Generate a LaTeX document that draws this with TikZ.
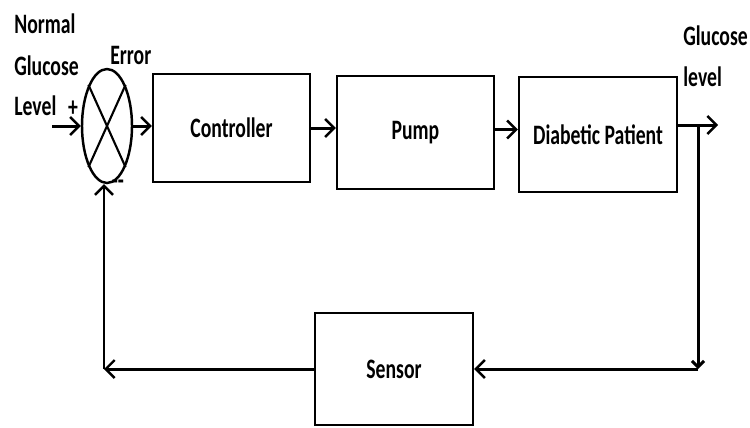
\documentclass[tikz,border=0pt]{standalone}
\usepackage{fontspec}
\newfontfamily\lblfont{Carlito}[FakeStretch=0.7]
\usetikzlibrary{positioning,arrows.meta,shapes.geometric,calc}

\begin{document}
\begin{tikzpicture}[x=0.02cm, y=-0.02cm, font=\lblfont\bfseries\fontsize{16}{19}\selectfont,
        blk/.style={draw, line width=1.4pt, rectangle, inner sep=0pt},
        lbl/.style={anchor=base west, inner sep=0pt},
        sig/.style={line width=1.7pt, -{Straight Barb[length=1.8mm,width=3.6mm,line width=1.4pt]}},
        wire/.style={line width=1.7pt}]
    \useasboundingbox (0,0) rectangle (750,427);
    % summing junction
    \node[draw, ellipse, line width=1.4pt, minimum width=1cm, minimum height=2.28cm, inner sep=0pt] (sum) at (107,126) {};
    \draw[line width=1.2pt] (sum.north west) -- (sum.south east);
    \draw[line width=1.2pt] (sum.north east) -- (sum.south west);
    % blocks
    \foreach \nm/\x/\y/\w/\h/\txt in {ctrl/231.5/128/157/108/Controller, pump/415.5/132.5/157/113/Pump,
        patient/598/134.5/158/115/Diabetic Patient, sensor/394/369/158/112/Sensor}
        {\node[blk, minimum width=\w*0.02cm, minimum height=\h*0.02cm] (\nm) at (\x,\y) {\txt};}
    % texts
    \node[lbl] (t1) at (14,33) {Normal};
    \node[lbl] (t2) at (14,75) {Glucose};
    \node[lbl] (t3) at (14,115) {Level};
    \node[lbl] (err) at (110,64) {Error};
    \node (plus) at (73,109) {+};
    \node (minus) at (118,185) {--};
    \node[lbl] (g1) at (683,45) {Glucose};
    \node[lbl] (g2) at (683,86) {level};
    % connectors
    \coordinate (in) at (52,126);
    \coordinate (out) at (718,125);
    \coordinate (tap) at (698,125);
    \coordinate (rc) at (698,369);
    \coordinate (lc) at (104,369);
    \draw[sig] (in) -- (sum.west);
    \draw[sig] (sum.east) -- (sum.east -| ctrl.west);
    \draw[sig] (ctrl.east) -- (ctrl.east -| pump.west);
    \draw[sig] ($(pump.east)+(0,-3)$) -- ($(pump.east -| patient.west)+(0,-3)$);
    \draw[sig] (patient.east |- out) -- (out);
    \draw[wire, -{Straight Barb[length=1.2mm,width=2.4mm]}] (tap) -- (rc);
    \draw[sig] (rc) -- (sensor.east);
    \draw[sig] (sensor.west) -- (lc);
    \draw[sig] (lc) -- (lc |- sum.south);
\end{tikzpicture}
\end{document}
